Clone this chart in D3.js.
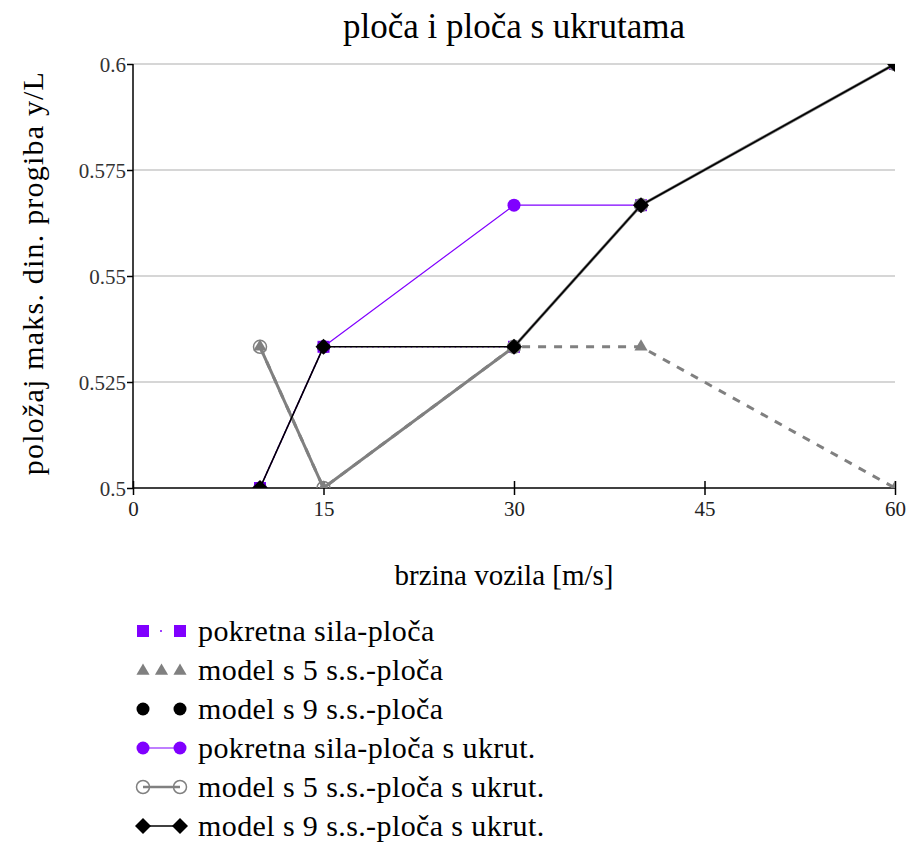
<!DOCTYPE html>
<html><head><meta charset="utf-8">
<script src="https://cdn.jsdelivr.net/npm/d3@7"></script>
<style>
body{margin:0;background:#fff;}
</style></head>
<body><svg id="c" width="914" height="843"></svg>
<script>
const xValues = [10, 15, 30, 40, 60];
const pokretnaSilaPloca = [0.5, 0.5333, 0.5333, 0.5667, 0.6];
const model5Ploca = [0.5333, 0.5, 0.5333, 0.5333, 0.5];
const model9Ploca = [0.5, 0.5333, 0.5333, 0.5667, 0.6];
const pokretnaSilaUkrut = [0.5, 0.5333, 0.5667, 0.5667, 0.6];
const model5Ukrut = [0.5333, 0.5, 0.5333, 0.5667, 0.6];
const model9Ukrut = [0.5, 0.5333, 0.5333, 0.5667, 0.6];
const xTicks = [0, 15, 30, 45, 60];
const yTicks = [0.5, 0.525, 0.55, 0.575, 0.6];
const seriesNames = ["pokretna sila-ploča","model s 5 s.s.-ploča","model s 9 s.s.-ploča",
  "pokretna sila-ploča s ukrut.","model s 5 s.s.-ploča s ukrut.","model s 9 s.s.-ploča s ukrut."];
const titleText = "ploča i ploča s ukrutama";
const xLabel = "brzina vozila [m/s]";
const yLabel = "položaj maks. din. progiba y/L";

const FONT = "Liberation Serif";
const purple = "#8000ff", gray = "#808080";
const series = [
  {name:seriesNames[0], vals:pokretnaSilaPloca, color:purple, width:1.5, dash:"1.5,4", sym:"square", fill:purple, line:true},
  {name:seriesNames[1], vals:model5Ploca, color:gray, width:3, dash:"8,8", sym:"triangle", fill:gray, line:true},
  {name:seriesNames[2], vals:model9Ploca, color:"#000", width:0, dash:null, sym:"circle", fill:"#000", line:false},
  {name:seriesNames[3], vals:pokretnaSilaUkrut, color:purple, width:1.2, dash:null, sym:"circle", fill:purple, line:true},
  {name:seriesNames[4], vals:model5Ukrut, color:gray, width:3, dash:null, sym:"ocircle", fill:"none", line:true},
  {name:seriesNames[5], vals:model9Ukrut, color:"#000", width:1.6, dash:null, sym:"diamond", fill:"#000", line:true}
];

const svg = d3.select("#c");
const L = 133, R = 895, T = 64, B = 488;
const x = d3.scaleLinear().domain([0, 60]).range([L, R]);
const y = d3.scaleLinear().domain([0.5, 0.6]).range([B, T]);

svg.append("defs").append("clipPath").attr("id","clip")
  .append("rect").attr("x",L).attr("y",T).attr("width",R-L).attr("height",B-T);

// title
svg.append("text").attr("x",(L+R)/2).attr("y",38).attr("text-anchor","middle")
  .attr("font-family",FONT).attr("font-size",35).text(titleText);

// gridlines
svg.append("g").selectAll("line").data(yTicks.filter(d=>d>0.5)).join("line")
  .attr("x1",L).attr("x2",R).attr("y1",d=>y(d)).attr("y2",d=>y(d))
  .attr("stroke","#c8c8c8").attr("stroke-width",1.5);

// axes
const yAxis = svg.append("g").attr("transform",`translate(${L},0)`)
  .call(d3.axisLeft(y).tickValues(yTicks).tickSize(6).tickPadding(1).tickFormat(d=>String(+d.toFixed(3))));
yAxis.attr("font-family",FONT).attr("font-size",21);
yAxis.select(".domain").attr("stroke","#000").attr("stroke-width",1.5).attr("d",`M0,${T}V${B}`);
yAxis.selectAll(".tick line").attr("stroke","#000").attr("stroke-width",1.5);
yAxis.selectAll(".tick text").attr("fill","#333").attr("dy","0.35em");

const xAxis = svg.append("g").attr("transform",`translate(0,${B})`)
  .call(d3.axisBottom(x).tickValues(xTicks).tickSize(7).tickPadding(6));
xAxis.attr("font-family",FONT).attr("font-size",21);
xAxis.select(".domain").attr("stroke","#000").attr("stroke-width",1.5).attr("d",`M${L},0H${R}`);
xAxis.selectAll(".tick line").attr("stroke","#000").attr("stroke-width",1.5).attr("y1",-7).attr("y2",7);
xAxis.selectAll(".tick text").attr("fill","#222");

// axis labels
svg.append("text").attr("x",504).attr("y",585).attr("text-anchor","middle")
  .attr("font-family",FONT).attr("font-size",29).text(xLabel);
svg.append("text").attr("transform",`translate(43,273) rotate(-90)`).attr("text-anchor","middle")
  .attr("font-family",FONT).attr("font-size",30).attr("letter-spacing",1.2).text(yLabel);

function symbolPath(g, sym, cx, cy, color, fill){
  if(sym==="square"){
    g.append("rect").attr("x",cx-6).attr("y",cy-6).attr("width",12).attr("height",12).attr("fill",fill);
  } else if(sym==="triangle"){
    g.append("path").attr("d",d3.symbol(d3.symbolTriangle,75)()).attr("transform",`translate(${cx},${cy})`).attr("fill",fill);
  } else if(sym==="circle"){
    g.append("circle").attr("cx",cx).attr("cy",cy).attr("r",6.5).attr("fill",fill);
  } else if(sym==="ocircle"){
    g.append("circle").attr("cx",cx).attr("cy",cy).attr("r",6.5).attr("fill","none").attr("stroke",color).attr("stroke-width",1.5);
  } else if(sym==="diamond"){
    g.append("path").attr("d",`M${cx},${cy-8}L${cx+8},${cy}L${cx},${cy+8}L${cx-8},${cy}Z`).attr("fill",fill);
  }
}

const plot = svg.append("g").attr("clip-path","url(#clip)");
const lineGen = d3.line().x(d=>x(d[0])).y(d=>y(d[1]));
series.forEach(s=>{
  const pts = xValues.map((xv,i)=>[xv, s.vals[i]]);
  const g = plot.append("g");
  if(s.line){
    g.append("path").attr("d",lineGen(pts)).attr("fill","none").attr("stroke",s.color)
      .attr("stroke-width",s.width).attr("stroke-dasharray",s.dash).attr("stroke-linejoin","round");
  }
  pts.forEach(p=>symbolPath(g, s.sym, x(p[0]), y(p[1]), s.color, s.fill));
});

// legend
const legY0 = 631, legStep = 39;
series.forEach((s,i)=>{
  const cy = legY0 + i*legStep;
  const g = svg.append("g");
  const x1 = 143, x2 = 180;
  if(s.sym==="triangle"){
    [x1, (x1+x2)/2, x2].forEach(xx=>symbolPath(g, s.sym, xx, cy+1, s.color, s.fill));
  } else {
    if(s.line){
      g.append("line").attr("x1",x1).attr("x2",x2).attr("y1",cy).attr("y2",cy).attr("stroke",s.color)
        .attr("stroke-width",s.sym==="ocircle"?2.5:s.width).attr("stroke-dasharray",s.dash?"2,20":null).attr("stroke-dashoffset",-17);
    }
    symbolPath(g, s.sym, x1, cy, s.color, s.fill);
    symbolPath(g, s.sym, x2, cy, s.color, s.fill);
  }
  g.append("text").attr("x",198).attr("y",cy).attr("dy","0.33em")
    .attr("font-family",FONT).attr("font-size",30).attr("letter-spacing",0.4).text(s.name);
});
</script></body></html>
